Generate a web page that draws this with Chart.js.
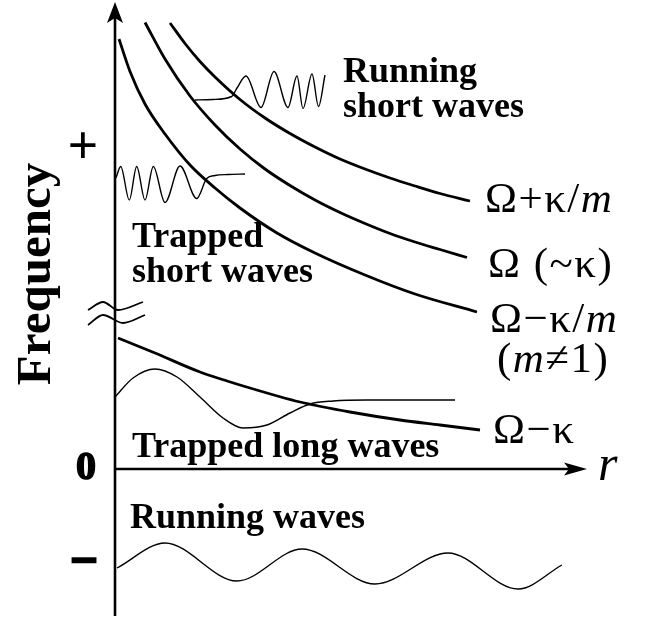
<!DOCTYPE html>
<html>
<head>
<meta charset="utf-8">
<script src="https://cdn.jsdelivr.net/npm/chart.js@4.4.0/dist/chart.umd.min.js"></script>
<style>
  html, body { margin: 0; padding: 0; background: #fff; overflow: hidden; }
  #wrap { width: 651px; height: 624px; }
</style>
</head>
<body>
<div id="wrap"><canvas id="chart"></canvas></div>
<script>
// schematic units: r along the x axis, frequency up the y axis (0 at the r axis)
const omegaPlusR = [1.10, 1.40, 1.70, 2.00, 2.50, 3.00, 3.50, 4.00, 4.50, 5.00, 5.50, 6.00, 6.50, 7.10];
const omegaPlusF = [8.92, 8.51, 8.15, 7.84, 7.39, 7.02, 6.71, 6.44, 6.20, 6.00, 5.82, 5.66, 5.51, 5.36];

const omegaR = [0.60, 1.00, 1.50, 2.00, 2.50, 3.00, 3.50, 4.00, 4.50, 5.00, 5.50, 6.00, 6.50, 7.04];
const omegaF = [8.93, 8.20, 7.46, 6.88, 6.40, 6.00, 5.67, 5.38, 5.13, 4.91, 4.71, 4.54, 4.39, 4.23];

const omegaMinusR = [0.08, 0.30, 0.60, 1.00, 1.50, 2.00, 2.50, 3.24, 4.00, 5.00, 6.00, 7.24];
const omegaMinusF = [8.60, 7.95, 7.30, 6.70, 6.08, 5.62, 5.22, 4.72, 4.32, 3.88, 3.50, 3.14];

const omegaKappaR = [0.06, 0.80, 1.70, 2.70, 3.70, 4.70, 5.70, 6.50, 7.30];
const omegaKappaF = [2.62, 2.32, 1.94, 1.62, 1.34, 1.14, 0.98, 0.88, 0.78];

// wave sketches
const runShortR = [1.60, 1.96, 2.334, 2.44, 2.62, 2.92, 3.18, 3.46, 3.64, 3.76, 3.94, 4.07, 4.20];
const runShortF = [7.38, 7.39, 7.45, 7.62, 7.86, 7.23, 7.95, 7.23, 7.86, 7.21, 7.90, 7.25, 7.88];

const trapShortR = [0.02, 0.114, 0.286, 0.434, 0.60, 0.766, 1.00, 1.30, 1.634, 1.834, 2.00, 2.26, 2.60];
const trapShortF = [5.82, 6.05, 5.38, 6.05, 5.38, 6.05, 5.33, 6.06, 5.41, 5.81, 5.87, 5.89, 5.90];

const trapLongR = [0.00, 0.36, 0.80, 1.24, 1.70, 2.16, 2.56, 3.04, 3.50, 3.90, 4.36, 5.04, 6.80];
const trapLongF = [1.44, 1.82, 2.00, 1.84, 1.44, 1.02, 0.82, 0.88, 1.12, 1.30, 1.36, 1.38, 1.38];

const runLongR = [0.04, 1.00, 2.44, 3.74, 5.20, 6.66, 8.06, 8.94];
const runLongF = [-1.98, -1.48, -2.24, -1.60, -2.30, -1.68, -2.40, -1.92];

// axis break marks
const breakUpR = [-0.54, -0.24, 0.06, 0.56];
const breakUpF = [3.18, 3.34, 3.18, 3.34];
const breakLoR = [-0.54, -0.24, 0.16, 0.60];
const breakLoF = [2.88, 3.08, 2.92, 3.08];

// axis extents
const rAxisEnd = 9.44;
const fAxisTop = 9.34;
const fAxisBottom = -2.94;

function pts(xs, ys) {
  return xs.map((x, i) => ({ x: x, y: ys[i] }));
}

function line(xs, ys, width) {
  return {
    data: pts(xs, ys),
    showLine: true,
    borderColor: '#000',
    borderWidth: width,
    pointRadius: 0,
    fill: false,
    cubicInterpolationMode: 'monotone'
  };
}

const SERIF = '"Liberation Serif", "DejaVu Serif", serif';

function rich(ctx, x, y, parts, spacing) {
  ctx.textAlign = 'left';
  ctx.letterSpacing = spacing || '0px';
  parts.forEach(p => {
    ctx.font = p[1];
    ctx.fillText(p[0], x, y);
    x += ctx.measureText(p[0]).width;
  });
  ctx.letterSpacing = '0px';
}

// axes with arrowheads and all the labels
const decor = {
  id: 'decor',
  afterDatasetsDraw(chart) {
    const ctx = chart.ctx;
    const sx = chart.scales.x, sy = chart.scales.y;
    const X = v => sx.getPixelForValue(v);
    const Y = v => sy.getPixelForValue(v);
    ctx.save();
    ctx.strokeStyle = '#000';
    ctx.fillStyle = '#000';
    ctx.lineWidth = 2.6;

    // vertical axis
    const x0 = X(0), y0 = Y(0);
    ctx.beginPath();
    ctx.moveTo(x0, Y(fAxisBottom));
    ctx.lineTo(x0, Y(fAxisTop) + 16);
    ctx.stroke();
    let tip = Y(fAxisTop);
    ctx.beginPath();
    ctx.moveTo(x0, tip);
    ctx.lineTo(x0 + 8, tip + 21);
    ctx.lineTo(x0, tip + 16);
    ctx.lineTo(x0 - 8, tip + 21);
    ctx.closePath();
    ctx.fill();

    // horizontal axis
    ctx.beginPath();
    ctx.moveTo(x0, y0);
    ctx.lineTo(X(rAxisEnd) - 18, y0);
    ctx.stroke();
    tip = X(rAxisEnd);
    ctx.beginPath();
    ctx.moveTo(tip, y0);
    ctx.lineTo(tip - 23, y0 - 6.5);
    ctx.lineTo(tip - 18, y0);
    ctx.lineTo(tip - 23, y0 + 6.5);
    ctx.closePath();
    ctx.fill();

    ctx.textBaseline = 'alphabetic';
    const bold = 'bold 36px ' + SERIF;
    const reg = '43px ' + SERIF;
    const ital = 'italic 43px ' + SERIF;
    const sp = '1.5px';

    rich(ctx, X(4.56), Y(7.74), [['Running', bold]]);
    rich(ctx, X(4.56), Y(7.04), [['short waves', bold]]);
    rich(ctx, X(0.34), Y(4.44), [['Trapped', bold]]);
    rich(ctx, X(0.34), Y(3.74), [['short waves', bold]]);
    rich(ctx, X(0.34), Y(0.24), [['Trapped long waves', bold]]);
    rich(ctx, X(0.30), Y(-1.18), [['Running waves', bold]]);

    rich(ctx, X(7.40), Y(5.14), [['Ω+κ/', reg], ['m', ital]], sp);
    rich(ctx, X(7.46), Y(3.84), [['Ω (~κ)', reg]], sp);
    rich(ctx, X(7.50), Y(2.74), [['Ω−κ/', reg], ['m', ital]], sp);
    rich(ctx, X(7.64), Y(1.94), [['(', reg], ['m', ital], ['≠1)', reg]], sp);
    rich(ctx, X(7.56), Y(0.52), [['Ω−κ', reg]], sp);
    rich(ctx, X(9.66), Y(-0.22), [['r', 'italic 50px ' + SERIF]]);

    ctx.textAlign = 'center';
    ctx.textBaseline = 'middle';
    ctx.lineWidth = 1.5;
    ctx.font = 'bold 54px ' + SERIF;
    ctx.fillText('+', X(-0.64), Y(6.40));
    ctx.font = 'bold 40px ' + SERIF;
    ctx.fillText('0', X(-0.58), Y(0.0));
    ctx.strokeText('0', X(-0.58), Y(0.0));
    ctx.lineWidth = 2.6;
    ctx.font = 'bold 48px ' + SERIF;
    ctx.fillText('−', X(-0.62), Y(-1.90));
    ctx.strokeText('−', X(-0.62), Y(-1.90));

    ctx.save();
    ctx.translate(X(-1.30), Y(3.90));
    ctx.rotate(-Math.PI / 2);
    ctx.textAlign = 'center';
    ctx.textBaseline = 'alphabetic';
    ctx.font = 'bold 49px ' + SERIF;
    ctx.fillText('Frequency', 0, 0);
    ctx.restore();

    ctx.restore();
  }
};

new Chart(document.getElementById('chart'), {
  type: 'scatter',
  data: {
    datasets: [
      line(omegaPlusR, omegaPlusF, 2.8),
      line(omegaR, omegaF, 2.8),
      line(omegaMinusR, omegaMinusF, 2.8),
      line(omegaKappaR, omegaKappaF, 2.8),
      line(runShortR, runShortF, 1.4),
      line(trapShortR, trapShortF, 1.4),
      line(trapLongR, trapLongF, 1.4),
      line(runLongR, runLongF, 1.4),
      line(breakUpR, breakUpF, 1.8),
      line(breakLoR, breakLoF, 1.8)
    ]
  },
  options: {
    responsive: true,
    maintainAspectRatio: false,
    animation: false,
    layout: { padding: 0 },
    plugins: { legend: { display: false }, tooltip: { enabled: false } },
    scales: {
      x: { type: 'linear', min: -2.30, max: 10.72, display: false },
      y: { type: 'linear', min: -3.10, max: 9.38, display: false }
    }
  },
  plugins: [decor]
});
</script>
</body>
</html>
